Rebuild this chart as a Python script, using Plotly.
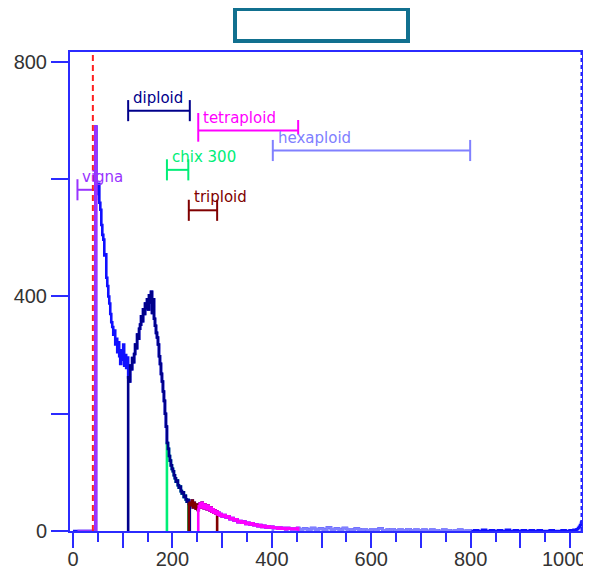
import plotly.graph_objects as go

# ---------------- data ----------------
channels = [0, 44, 45,
            47, 49, 51, 53, 55, 57, 59, 61, 63, 65, 67, 69, 71, 73, 75, 77, 79, 81, 83, 85, 87, 89,
            91, 93, 95, 97, 99, 101, 103, 105, 107, 109,
            111, 113, 115, 117, 119, 121, 123, 125, 127, 129, 131, 133, 135, 137, 139, 141, 143, 145,
            147, 149, 151, 153, 155, 157, 159, 161, 163, 165, 167, 169, 171, 173, 175, 177, 179, 181,
            183, 185, 187, 189, 191, 193, 195, 197, 199, 201, 203, 205, 207, 209, 211, 213, 215, 217,
            219, 221, 223, 225, 227, 229, 231, 233, 235,
            237, 239, 241, 243, 245, 247, 249, 251, 253, 255, 257, 259, 261, 263, 265, 267, 269, 271,
            273, 275, 277, 279, 281, 283, 285, 287, 289, 291, 293, 295, 297, 299,
            303, 307, 311, 315, 319, 323, 327, 331, 335, 339, 343, 347, 351, 355, 359, 363, 367, 371,
            375, 379, 383, 387, 391, 395, 399, 403, 407, 411, 415, 419, 423, 427, 431, 435, 439, 443,
            447, 451, 455,
            463, 471, 479, 487, 495, 503, 511, 519, 527, 535, 543, 551, 559, 567, 575, 583, 591, 599,
            607, 615, 623, 631, 639, 647, 655, 663, 671, 679, 687, 695, 703, 711, 719, 727, 735, 743,
            751, 759, 767, 775, 783, 791, 799, 807, 815, 823, 831, 839, 847, 855, 863, 871, 879, 887,
            895, 903, 911, 919, 927, 935, 943, 951, 959, 967, 975, 983, 991, 999, 1007, 1013, 1016,
            1018, 1020, 1022, 1023]

counts = [0, 0, 690,
          588, 575, 592, 560, 548, 522, 505, 497, 470, 472, 432, 418, 400, 388, 370, 356, 348, 335, 342, 318, 328, 305,
          322, 298, 285, 308, 292, 318, 282, 300, 278, 296,
          262, 255, 282, 276, 295, 288, 302, 318, 312, 335, 328, 345, 352, 366, 358, 378, 370, 388,
          380, 395, 378, 402, 390, 408, 372, 395, 362, 350, 338, 330, 318, 298, 285, 268, 255, 238,
          222, 200, 178, 150, 140, 128, 120, 112, 106, 102, 95, 90, 84, 86, 78, 74, 76, 68,
          64, 66, 58, 60, 54, 50, 53, 46, 48,
          44, 52, 40, 48, 42, 38, 45, 36, 42, 47, 40, 48, 43, 39, 45, 41, 37, 43,
          38, 35, 40, 33, 37, 31, 35, 30, 33, 28, 31, 26, 29, 25,
          27, 23, 25, 20, 22, 18, 20, 15, 17, 14, 16, 12, 14, 11, 13, 10, 11, 8,
          10, 7, 9, 6, 8, 6, 7, 5, 6, 4, 6, 4, 5, 3, 5, 4, 3, 4,
          3, 5, 3,
          4, 2, 5, 3, 4, 2, 6, 3, 4, 2, 5, 3, 2, 4, 2, 3, 1, 3,
          2, 4, 1, 2, 3, 1, 2, 1, 3, 1, 2, 1, 2, 0, 2, 1, 0, 2,
          1, 0, 1, 2, 0, 1, 0, 1, 0, 2, 0, 1, 0, 1, 0, 2, 0, 1,
          0, 1, 0, 1, 0, 1, 0, 0, 1, 0, 0, 1, 0, 1, 2, 3, 5,
          7, 10, 14, 18]

gate_names = ["vigna", "diploid", "chix 300", "triploid", "tetraploid", "hexaploid"]
gate_lo = [9, 111, 189, 233, 252, 402]
gate_hi = [47, 235, 232, 290, 453, 799]
gate_level = [582, 717, 616, 547, 683, 649]      # bracket heights (counts)
gate_colors = ["#9933ff", "#00008b", "#00ee77", "#800000", "#ff00ff", "#8080ff"]

marker_x = 40          # red dashed marker channel
end_x = 1023           # dashed right marker

x_tickvals = [0, 100, 200, 300, 400, 500, 600, 700, 800, 900, 1000]
x_ticktext = ["0", "", "200", "", "400", "", "600", "", "800", "", ""]
x_last_label = "1000"  # drawn separately so it stays inside the page
x_minor = [50, 150, 250, 350, 450, 550, 650, 750, 850, 950]
y_tickvals = [0, 200, 400, 600, 800]
y_ticktext = ["0", "", "400", "", "800"]

# ---------------- figure ----------------
BLUE = "#2b2bff"
fig = go.Figure()


def seg(lo, hi):
    v0 = 0
    for c, v in zip(channels, counts):
        if c <= lo:
            v0 = v
    xs, ys = [lo, lo], [0, v0]
    for c, v in zip(channels, counts):
        if lo < c < hi:
            xs.append(c)
            ys.append(v)
    xs += [hi, hi]
    ys += [ys[-1], 0]
    return xs, ys


fig.add_trace(go.Scatter(x=channels, y=counts, mode="lines", line_shape="hv",
                         line=dict(color="#1010ff", width=2.6), hoverinfo="skip"))

draw_order = [0, 2, 1, 3, 5, 4]
for i in draw_order:
    xs, ys = seg(gate_lo[i], gate_hi[i])
    fig.add_trace(go.Scatter(x=xs, y=ys, mode="lines", line_shape="hv",
                             line=dict(color=gate_colors[i], width=2.6), hoverinfo="skip"))

# brackets
cap = 18
for i, name in enumerate(gate_names):
    lo, hi, lv = gate_lo[i], gate_hi[i], gate_level[i]
    c_top_l, c_bot_l, c_top_r, c_bot_r = lv + cap, lv - cap, lv + cap, lv - cap
    if name == "tetraploid":
        c_top_l, c_bot_l, c_top_r, c_bot_r = lv + 30, lv - 19, lv + 18, lv - 7
    fig.add_trace(go.Scatter(
        x=[lo, hi, None, lo, lo, None, hi, hi],
        y=[lv, lv, None, c_top_l, c_bot_l, None, c_top_r, c_bot_r],
        mode="lines", line=dict(color=gate_colors[i], width=2), hoverinfo="skip"))
    fig.add_annotation(x=lo + 6 if name != "vigna" else lo + 5, y=lv + 22,
                       text=name, showarrow=False, xanchor="left", yanchor="middle",
                       font=dict(family="DejaVu Sans", size=15, color=gate_colors[i]))

fig.add_shape(type="line", x0=marker_x, x1=marker_x, y0=0, y1=1, yref="paper",
              line=dict(color="#ff2020", width=2, dash="6px,4px"))
fig.add_shape(type="line", x0=end_x, x1=end_x, y0=0, y1=1, yref="paper",
              line=dict(color="#2020ff", width=2, dash="4px,3px"))

# teal title box
fig.add_shape(type="rect", xref="paper", yref="paper",
              x0=(235 - 70) / 512, x1=(408 - 70) / 512,
              y0=(531 - 41) / 479, y1=(531 - 9) / 479,
              line=dict(color="#11708f", width=4), fillcolor="white")

tick_font = dict(family="Liberation Sans, Arial", size=20, color="#333333")
fig.add_annotation(x=x_tickvals[-1], xref="x", y=-28 / 479, yref="paper",
                   text=x_last_label, showarrow=False, xanchor="center", yanchor="middle",
                   xshift=-6, font=tick_font)

fig.update_xaxes(range=[-6, 1024], showgrid=False, zeroline=False, automargin=False,
                 showline=True, linecolor=BLUE, linewidth=2, mirror=True,
                 ticks="outside", ticklen=15, tickwidth=2, tickcolor=BLUE,
                 tickvals=x_tickvals, ticktext=x_ticktext, tickfont=tick_font,
                 ticklabelstandoff=-6, ticklabeloverflow="allow",
                 minor=dict(tickvals=x_minor, ticks="outside", ticklen=9, tickwidth=2,
                            tickcolor=BLUE))
fig.update_yaxes(range=[0, 817], showgrid=False, zeroline=False, automargin=False,
                 showline=True, linecolor=BLUE, linewidth=2, mirror=True,
                 ticks="outside", ticklen=17, tickwidth=2, tickcolor=BLUE,
                 tickvals=y_tickvals, ticktext=y_ticktext, tickfont=tick_font)

# page body has an 8px margin, so the figure is laid out 8px smaller/shifted
fig.update_layout(width=583, height=565, margin=dict(l=62, r=9, t=44, b=42, autoexpand=False),
                  plot_bgcolor="white", paper_bgcolor="white", showlegend=False)

fig.write_html("out.html")
